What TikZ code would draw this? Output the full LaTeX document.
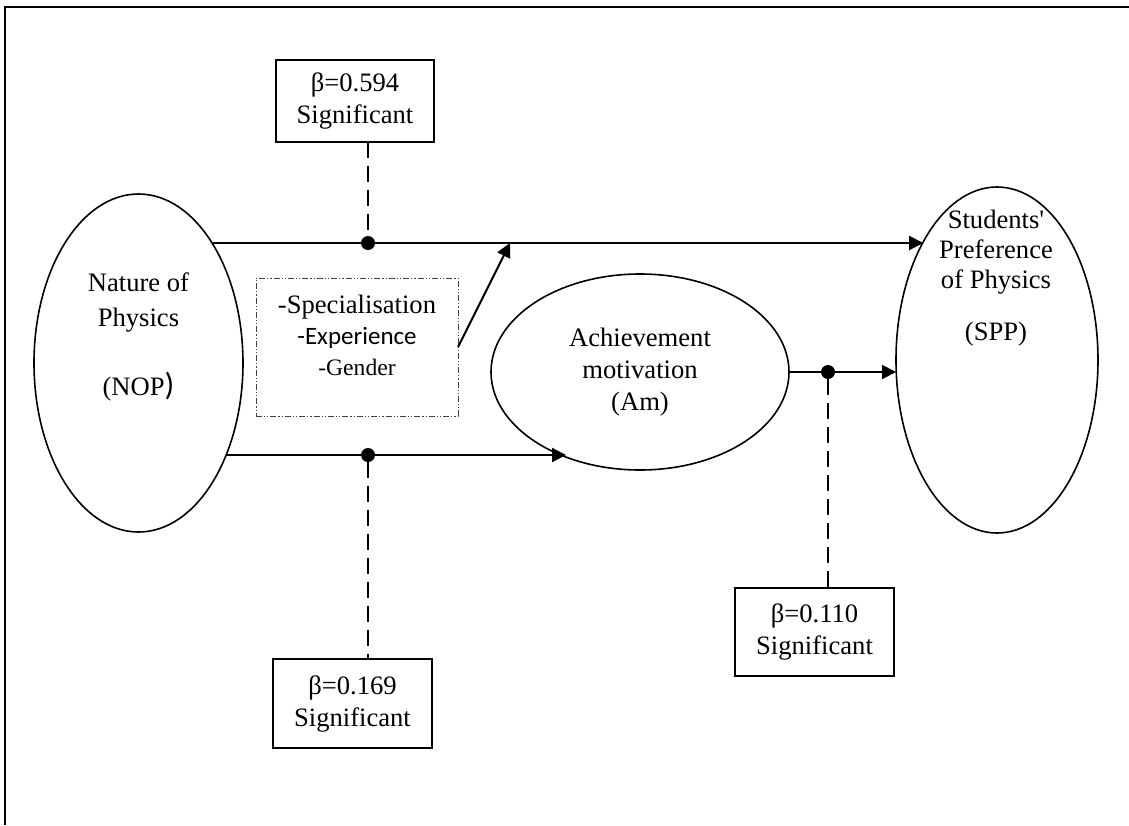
\documentclass[tikz,border=0pt]{standalone}
\usepackage{fontspec}
\setmainfont{Liberation Serif}[Ligatures=TeXOff]
\newfontfamily\calibri{Carlito}
\usetikzlibrary{shapes.geometric,arrows.meta}

\begin{document}
\begin{tikzpicture}[x=0.5pt, y=-0.5pt,
  every node/.style = {align=center, inner sep=0pt, outer sep=0pt,
    font=\fontsize{13.3}{16}\selectfont},
  var/.style = {ellipse, draw, line width=0.8pt},
  betabox/.style = {rectangle, draw, line width=0.6pt},
  modbox/.style = {rectangle, draw=black!75, line width=0.5pt,
    dash pattern=on 3pt off 1pt on 0.6pt off 1pt on 0.6pt off 1pt},
  dot/.style = {circle, fill, minimum size=7pt},
  arr/.style = {line width=1pt, -{Triangle[length=7pt,width=7pt]}},
  link/.style = {line width=0.8pt, dash pattern=on 8pt off 4pt}]
  \useasboundingbox (0,0) rectangle (1129,825);
  \draw[line width=1.1pt] (1129,7) -- (5,7) -- (5,825);

  % the three variables
  \node[var, minimum width=104.5pt, minimum height=169pt] (nop) at (138.5,363) {};
  \node[font=\fontsize{13.3}{17.5}\selectfont] (noptxt) at (138.5,337)
    {Nature of\\Physics\\[17pt](NOP{\calibri\fontsize{16}{17}\selectfont)}};
  \node[var, minimum width=149pt, minimum height=98pt] (am) at (640,372)
    {Achievement\\motivation\\(Am)};
  \node[var, minimum width=101pt, minimum height=173pt] (spp) at (997,360) {};
  \node[font=\fontsize{13.3}{15}\selectfont] (spptxt) at (996,278)
    {Students'\\Preference\\of Physics\\[11pt](SPP)};

  % moderators
  \node[modbox, minimum width=101pt, minimum height=69pt] (mod) at (357,347) {};
  \node[font=\fontsize{13.3}{15.5}\selectfont] (modtxt) at (357,335)
    {-Specialisation\\{\calibri\fontsize{12.5}{15.5}\selectfont -Experience}\\
     {\fontsize{11.8}{15.5}\selectfont -Gender}};

  % coefficients
  \node[betabox, minimum width=79pt, minimum height=41pt] (b594) at (355,101)
    {β=0.594\\Significant};
  \node[betabox, minimum width=79.5pt, minimum height=44.5pt] (b169) at (352.5,703.5)
    {β=0.169\\Significant};
  \node[betabox, minimum width=79.5pt, minimum height=44pt] (b110) at (814.5,632)
    {β=0.110\\Significant};

  \node[dot] (d1) at (368,243) {};
  \node[dot] (d2) at (368,455) {};
  \node[dot] (d3) at (828,372) {};
  \coordinate (mtip) at (510,243);

  \draw[arr] (nop.58.5 |- d1) -- (spp.122.3 |- d1);
  \draw[arr] (nop.-46.4 |- d2) -- (am.229.8 |- d2);
  \draw[arr] (am.east |- d3) -- (spp.west |- d3);
  \draw[arr] (mod.east) -- (mtip);

  \draw[link] (b594.south -| d1) -- (d1);
  \draw[link] (d2) -- (d2 |- b169.north);
  \draw[link] (d3) -- (d3 |- b110.north);
\end{tikzpicture}
\end{document}
